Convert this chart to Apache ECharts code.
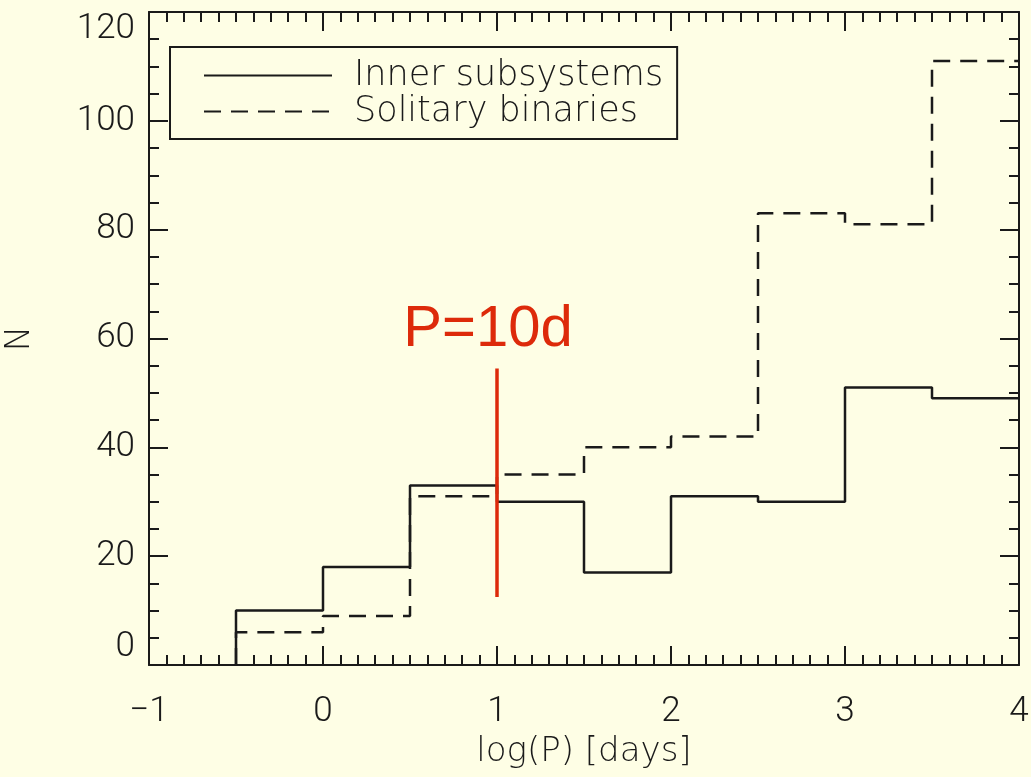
<!DOCTYPE html>
<html>
<head>
<meta charset="utf-8">
<script src="https://cdn.jsdelivr.net/npm/echarts@6/dist/echarts.min.js"></script>
<style>
  html, body { margin: 0; padding: 0; background: #fefee5; }
  #chart { width: 1031px; height: 777px; }
</style>
</head>
<body>
<div id="chart"></div>
<script>
// left edges of the log(P) bins, width 0.5
var binEdges = [-0.5, 0, 0.5, 1, 1.5, 2, 2.5, 3, 3.5];
var binRight = 4;
var innerCounts = [10, 18, 33, 30, 17, 31, 30, 51, 49];
var solitaryCounts = [6, 9, 31, 35, 40, 42, 83, 81, 111];
// P=10d marker
var markerX = 1;
var markerRange = [12.5, 54.5];

var ink = '#1a1a1a';
var fontFam = 'Roboto, "Liberation Sans", sans-serif';
var wideFam = '"DejaVu Sans", sans-serif';

function histData (counts) {
  var d = [[binEdges[0], 0]];
  for (var i = 0; i < counts.length; i++) {
    d.push([binEdges[i], counts[i]]);
  }
  d.push([binRight, counts[counts.length - 1]]);
  return d;
}

function axisCommon (showLabels) {
  return {
    axisLine: { show: true, onZero: false, lineStyle: { color: ink, width: 2 } },
    axisTick: { show: true, inside: true, length: 19, lineStyle: { color: ink, width: 2 } },
    minorTick: { show: true, length: 10, lineStyle: { color: ink, width: 2 } },
    splitLine: { show: false },
    axisLabel: {
      show: showLabels, color: ink, fontSize: 35, fontFamily: fontFam, fontWeight: 300,
      formatter: function (v) { return String(v).replace('-', '\u2212'); }
    }
  };
}

var chartDom = document.getElementById('chart');
var myChart = echarts.init(chartDom);

var xBottom = axisCommon(true);
Object.assign(xBottom, {
  type: 'value', min: -1, max: 4, interval: 1, position: 'bottom',
  name: 'log(P) [days]', nameLocation: 'middle', nameGap: 66,
  nameTextStyle: { color: ink, fontSize: 34, fontFamily: wideFam, fontWeight: 200 }
});
xBottom.minorTick.splitNumber = 10;
xBottom.axisLabel.margin = 30;

var xTop = axisCommon(false);
Object.assign(xTop, { type: 'value', min: -1, max: 4, interval: 1, position: 'top' });
xTop.minorTick.splitNumber = 10;

var yLeft = axisCommon(true);
Object.assign(yLeft, {
  type: 'value', min: 0, max: 120, interval: 20, position: 'left',
  name: 'N', nameLocation: 'middle', nameGap: 112, nameRotate: 90,
  nameTextStyle: { color: ink, fontSize: 34, fontFamily: wideFam, fontWeight: 200 }
});
yLeft.minorTick.splitNumber = 4;
yLeft.axisLabel.margin = 14;
yLeft.axisLabel.verticalAlignMinLabel = 'bottom';
yLeft.axisLabel.verticalAlignMaxLabel = 'top';

var yRight = axisCommon(false);
Object.assign(yRight, { type: 'value', min: 0, max: 120, interval: 20, position: 'right' });
yRight.minorTick.splitNumber = 4;

var option = {
  backgroundColor: '#fefee5',
  animation: false,
  grid: { left: 149, right: 12, top: 12, bottom: 112, containLabel: false, outerBoundsMode: 'none' },
  xAxis: [xBottom, xTop],
  yAxis: [yLeft, yRight],
  legend: {
    data: ['Inner subsystems', 'Solitary binaries'],
    orient: 'vertical',
    left: 170, top: 47,
    padding: [11, 14, 10, 33],
    itemWidth: 128, itemHeight: 14, itemGap: 1,
    borderColor: ink, borderWidth: 2,
    itemStyle: { opacity: 0 },
    textStyle: {
      color: ink, fontSize: 35, fontFamily: wideFam, fontWeight: 200,
      padding: [0, 0, 0, 17]
    }
  },
  series: [
    {
      name: 'Inner subsystems',
      type: 'line', step: 'end', symbol: 'none',
      data: histData(innerCounts),
      lineStyle: { color: ink, width: 2.5, type: 'solid' },
      itemStyle: { color: ink }
    },
    {
      name: 'Solitary binaries',
      type: 'line', step: 'end', symbol: 'none',
      data: histData(solitaryCounts),
      lineStyle: { color: ink, width: 2.5, type: [17, 10] },
      itemStyle: { color: ink }
    },
    {
      name: 'P=10d',
      type: 'line', symbol: 'none',
      data: [[markerX, markerRange[0]], [markerX, markerRange[1]]],
      lineStyle: { color: '#dd2a0a', width: 3.5 },
      endLabel: {
        show: true, formatter: 'P=10d', color: '#dd2a0a',
        fontSize: 58, fontFamily: '"Liberation Sans", Arial, sans-serif',
        position: 'top', distance: 12, offset: [-21, -38], align: 'center'
      },
      z: 5
    }
  ]
};
myChart.setOption(option);
</script>
</body>
</html>
